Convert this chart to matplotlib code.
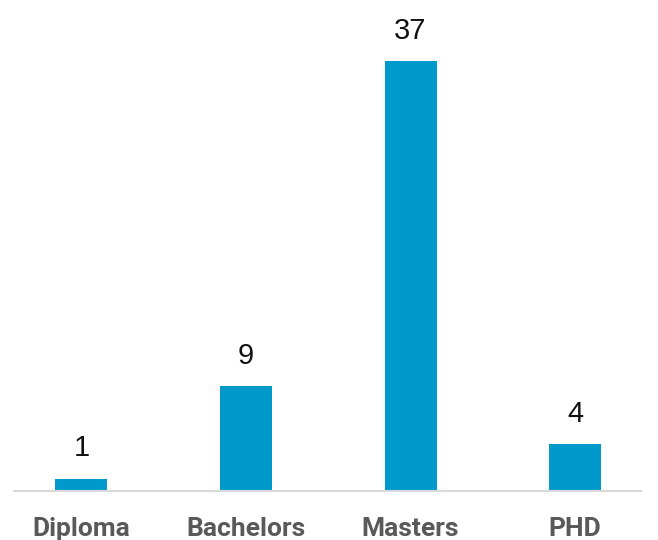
import matplotlib
matplotlib.use("Agg")
import matplotlib.pyplot as plt

categories = ["Diploma", "Bachelors", "Masters", "PHD"]
counts = [1, 9, 37, 4]

fig = plt.figure(figsize=(6.58, 5.40), dpi=100)
ax = fig.add_axes([14 / 658, (540 - 490.7) / 540, (641 - 14) / 658, 490.7 / 540])

x = list(range(len(categories)))
bars = ax.bar(x, counts, width=0.316, color="#0099CC", zorder=2)

ax.set_xlim(-0.41, 3.40)
ax.set_ylim(0, 42.3)

for rect, v in zip(bars, counts):
    ax.annotate(str(v), (rect.get_x() + rect.get_width() / 2, rect.get_height()),
                xytext=(0, 12), textcoords="offset points",
                ha="center", va="bottom", fontsize=21,
                family="Liberation Sans", color="#111111")

for s in ["top", "right", "left"]:
    ax.spines[s].set_visible(False)
ax.spines["bottom"].set_color("#D9D9D9")
ax.spines["bottom"].set_linewidth(1.5)
ax.set_yticks([])
ax.set_xticks(x)
ax.set_xticklabels(categories, fontsize=19, fontweight="bold",
                   family="Roboto", color="#595959")
ax.tick_params(axis="x", length=0, pad=19)

fig.savefig("out.png", dpi=100)
